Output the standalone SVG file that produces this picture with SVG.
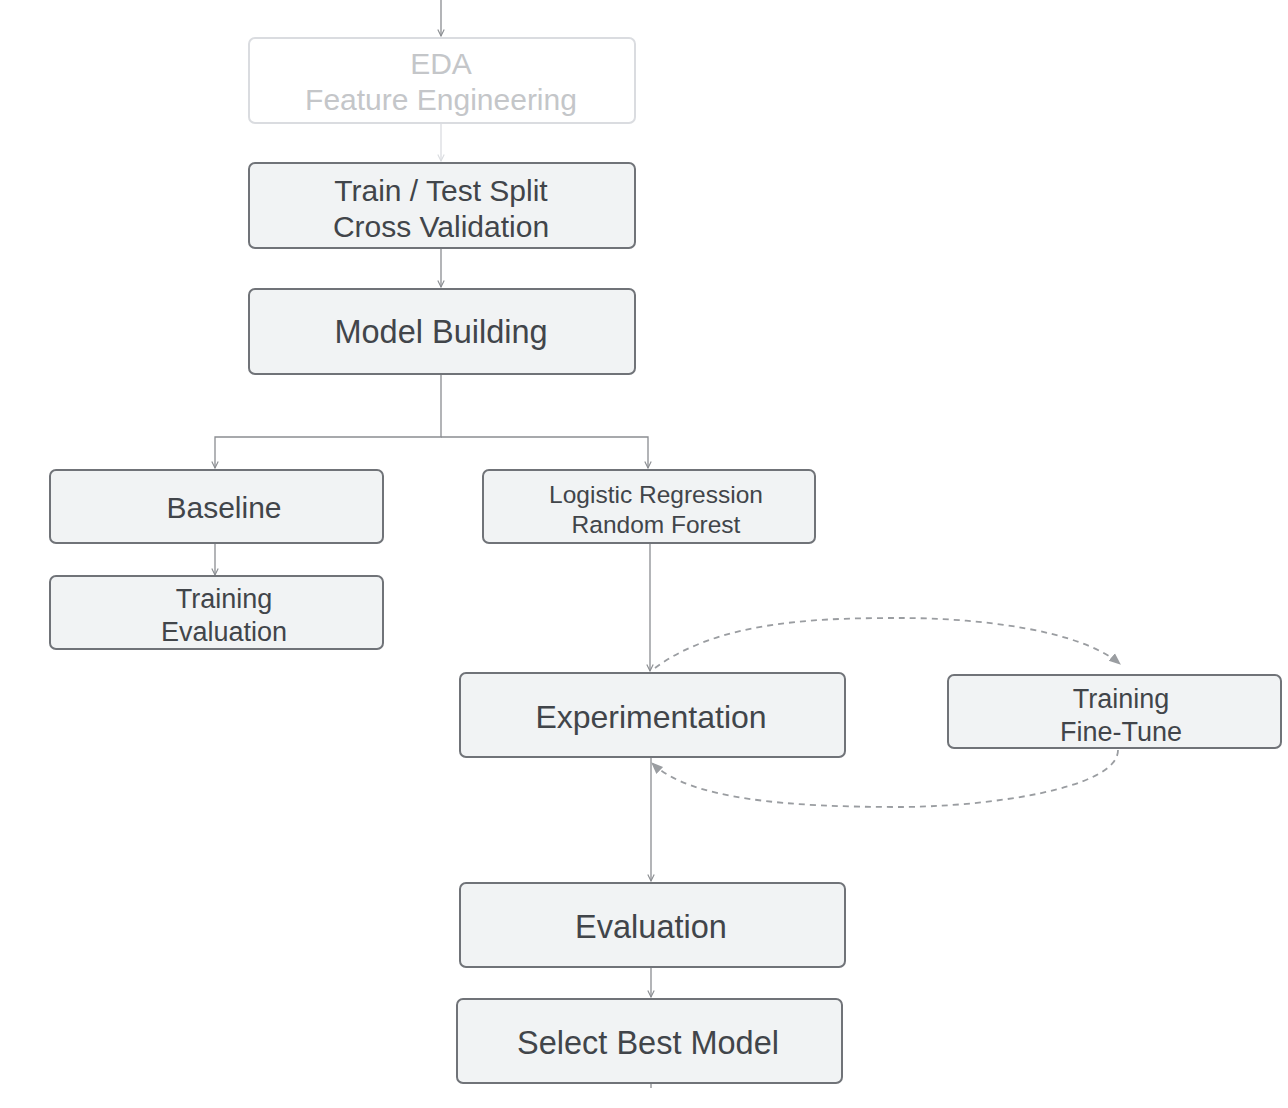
<svg xmlns="http://www.w3.org/2000/svg" width="1288" height="1108" viewBox="0 0 1288 1108">
<style>
.box{fill:#f1f3f4;stroke:#707378;stroke-width:2}
.fade{fill:#ffffff;stroke:#dadce0;stroke-width:2}
.t{font-family:"Liberation Sans",Arial,sans-serif;fill:#41454a;text-anchor:middle;dominant-baseline:central}
.tf{fill:#c4c6c9}
.c{fill:none;stroke:#8a8d91;stroke-width:1.3}
.cf{fill:none;stroke:#dadce0;stroke-width:1.3}
.d{fill:none;stroke:#9a9da1;stroke-width:1.8;stroke-dasharray:6 5}
</style>
<defs>
<marker id="a" viewBox="0 0 10 10" refX="9" refY="5" markerWidth="8" markerHeight="8" orient="auto" markerUnits="userSpaceOnUse"><path d="M1,1 L9,5 L1,9" fill="none" stroke="#8a8d91" stroke-width="1.4"/></marker>
<marker id="af" viewBox="0 0 10 10" refX="9" refY="5" markerWidth="8" markerHeight="8" orient="auto" markerUnits="userSpaceOnUse"><path d="M1,1 L9,5 L1,9" fill="none" stroke="#dadce0" stroke-width="1.4"/></marker>
<marker id="ad" viewBox="0 0 10 10" refX="9" refY="5" markerWidth="12" markerHeight="12" orient="auto" markerUnits="userSpaceOnUse"><path d="M0,1 L10,5 L0,9 Z" fill="#9a9da1"/></marker>
</defs>
<g id="connectors">
<path class="c" d="M441,0 V36" marker-end="url(#a)"/>
<path class="cf" d="M441,124 V161" marker-end="url(#af)"/>
<path class="c" d="M441,249 V287" marker-end="url(#a)"/>
<path class="c" d="M441,375 V437 H215 V468"  marker-end="url(#a)"/>
<path class="c" d="M441,437 H648 V468" marker-end="url(#a)"/>
<path class="c" d="M215,544 V575" marker-end="url(#a)"/>
<path class="c" d="M650,544 V671" marker-end="url(#a)"/>
<path class="c" d="M651,758 V881" marker-end="url(#a)"/>
<path class="c" d="M651,968 V997" marker-end="url(#a)"/>
<path class="c" d="M651,1084 V1088"/>
<path class="d" d="M655,668 C720,620 820,618 900,618 C980,618 1080,630 1120,664" marker-end="url(#ad)"/>
<path class="d" d="M1118,750 C1118,790 980,807 900,807 C790,807 690,800 652,763" marker-end="url(#ad)"/>
</g>
<g id="eda"><rect class="fade" x="249" y="38" width="386" height="85" rx="6"/>
<text class="t tf" x="441" y="63" font-size="30">EDA</text>
<text class="t tf" x="441" y="99" font-size="30">Feature Engineering</text></g>
<g id="split"><rect class="box" x="249" y="163" width="386" height="85" rx="6"/>
<text class="t" x="441" y="190" font-size="30">Train / Test Split</text>
<text class="t" x="441" y="226" font-size="30">Cross Validation</text></g>
<g id="model"><rect class="box" x="249" y="289" width="386" height="85" rx="6"/>
<text class="t" x="441" y="332" font-size="32.5">Model Building</text></g>
<g id="baseline"><rect class="box" x="50" y="470" width="333" height="73" rx="6"/>
<text class="t" x="224" y="507" font-size="30">Baseline</text></g>
<g id="trainEval"><rect class="box" x="50" y="576" width="333" height="73" rx="6"/>
<text class="t" x="224" y="599" font-size="27">Training</text>
<text class="t" x="224" y="632" font-size="27">Evaluation</text></g>
<g id="lrrf"><rect class="box" x="483" y="470" width="332" height="73" rx="6"/>
<text class="t" x="656" y="494" font-size="24.5">Logistic Regression</text>
<text class="t" x="656" y="524" font-size="24.5">Random Forest</text></g>
<g id="experimentation"><rect class="box" x="460" y="673" width="385" height="84" rx="6"/>
<text class="t" x="651" y="717" font-size="32">Experimentation</text></g>
<g id="fineTune"><rect class="box" x="948" y="675" width="333" height="73" rx="6"/>
<text class="t" x="1121" y="699" font-size="27">Training</text>
<text class="t" x="1121" y="732" font-size="27">Fine-Tune</text></g>
<g id="evaluation"><rect class="box" x="460" y="883" width="385" height="84" rx="6"/>
<text class="t" x="651" y="927" font-size="32.5">Evaluation</text></g>
<g id="select"><rect class="box" x="457" y="999" width="385" height="84" rx="6"/>
<text class="t" x="648" y="1043" font-size="32.5">Select Best Model</text></g>
</svg>
